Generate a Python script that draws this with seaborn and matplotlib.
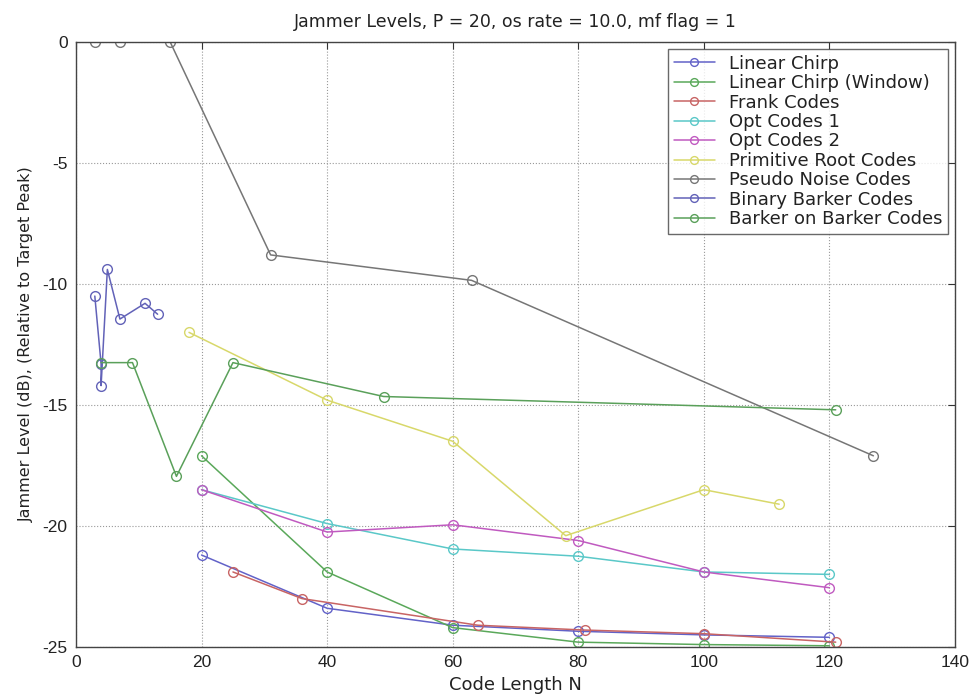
import matplotlib
matplotlib.use("Agg")
import matplotlib.pyplot as plt
import seaborn as sns
import pandas as pd

sns.set_style("white")
plt.rcParams['font.family'] = ['Liberation Sans', 'DejaVu Sans']
plt.rcParams['axes.unicode_minus'] = False
plt.rcParams['text.color'] = '#222222'
plt.rcParams['axes.labelcolor'] = '#222222'
plt.rcParams['xtick.color'] = '#222222'
plt.rcParams['ytick.color'] = '#222222'

labels = ["Linear Chirp", "Linear Chirp (Window)", "Frank Codes", "Opt Codes 1",
          "Opt Codes 2", "Primitive Root Codes", "Pseudo Noise Codes",
          "Binary Barker Codes", "Barker on Barker Codes"]

lc_x = [20, 40, 60, 80, 100, 120]
lc_y = [-21.2, -23.4, -24.1, -24.35, -24.5, -24.6]
lcw_x = [20, 40, 60, 80, 100, 120]
lcw_y = [-17.1, -21.9, -24.2, -24.8, -24.9, -24.95]
frank_x = [25, 36, 64, 81, 100, 121]
frank_y = [-21.9, -23.0, -24.1, -24.3, -24.45, -24.8]
opt1_x = [20, 40, 60, 80, 100, 120]
opt1_y = [-18.5, -19.9, -20.95, -21.25, -21.9, -22.0]
opt2_x = [20, 40, 60, 80, 100, 120]
opt2_y = [-18.5, -20.25, -19.95, -20.6, -21.9, -22.55]
prim_x = [18, 40, 60, 78, 100, 112]
prim_y = [-12.0, -14.8, -16.5, -20.4, -18.5, -19.1]
pn_x = [3, 7, 15, 31, 63, 127]
pn_y = [0, 0, 0, -8.8, -9.85, -17.1]
bb_x = [3, 4, 4, 5, 7, 11, 13]
bb_y = [-10.5, -13.3, -14.2, -9.4, -11.45, -10.8, -11.25]
bob_x = [4, 9, 16, 25, 49, 121]
bob_y = [-13.25, -13.25, -17.95, -13.25, -14.65, -15.2]

xs = [lc_x, lcw_x, frank_x, opt1_x, opt2_x, prim_x, pn_x, bb_x, bob_x]
ys = [lc_y, lcw_y, frank_y, opt1_y, opt2_y, prim_y, pn_y, bb_y, bob_y]
colors = ["#6262c8", "#5aa85a", "#c86464", "#5ac8c8", "#c05ac0",
          "#d8d86a", "#767676", "#6262b8", "#5aa05a"]

fig = plt.figure(figsize=(9.74, 6.99), dpi=100)
ax = fig.add_axes([0.078, 0.0744, 0.9025, 0.8656])

for lab, x, y, c in zip(labels, xs, ys, colors):
    df = pd.DataFrame({"N": x, "J": y})
    sns.lineplot(data=df, x="N", y="J", ax=ax, sort=False, estimator=None,
                 color=c, linewidth=1.1, marker="o", markersize=7,
                 markerfacecolor="none", markeredgecolor=c, markeredgewidth=1.0,
                 label=lab)

ax.set_xlim(0, 140)
ax.set_ylim(-25, 0)
ax.set_xticks([0, 20, 40, 60, 80, 100, 120, 140])
ax.set_yticks([-25, -20, -15, -10, -5, 0])
ax.tick_params(direction="in", top=True, right=True, labelsize=12.5, length=5,
               color="#333333", pad=6)
ax.grid(True, linestyle=":", color="#999999", linewidth=0.8)
for s in ax.spines.values():
    s.set_color("#444444")
    s.set_linewidth(1.0)

wide = ['DejaVu Sans']
ax.set_title("Jammer Levels, P = 20, os rate = 10.0, mf flag = 1",
             fontsize=12.5, pad=11, family=wide)
ax.set_xlabel("Code Length N", fontsize=13, labelpad=4, family=wide)
ax.set_ylabel("Jammer Level (dB), (Relative to Target Peak)", fontsize=11.5,
              labelpad=6, family=wide)

leg = ax.legend(loc="upper right", prop={'family': wide, 'size': 13},
                frameon=True, fancybox=False,
                borderpad=0.3, labelspacing=0.08, handlelength=2.3,
                handletextpad=0.8, markerscale=0.8,
                bbox_to_anchor=(0.9925, 0.988), borderaxespad=0.0)
leg.get_frame().set_edgecolor("#444444")
leg.get_frame().set_linewidth(1.0)

fig.savefig("out.png", dpi=100)
